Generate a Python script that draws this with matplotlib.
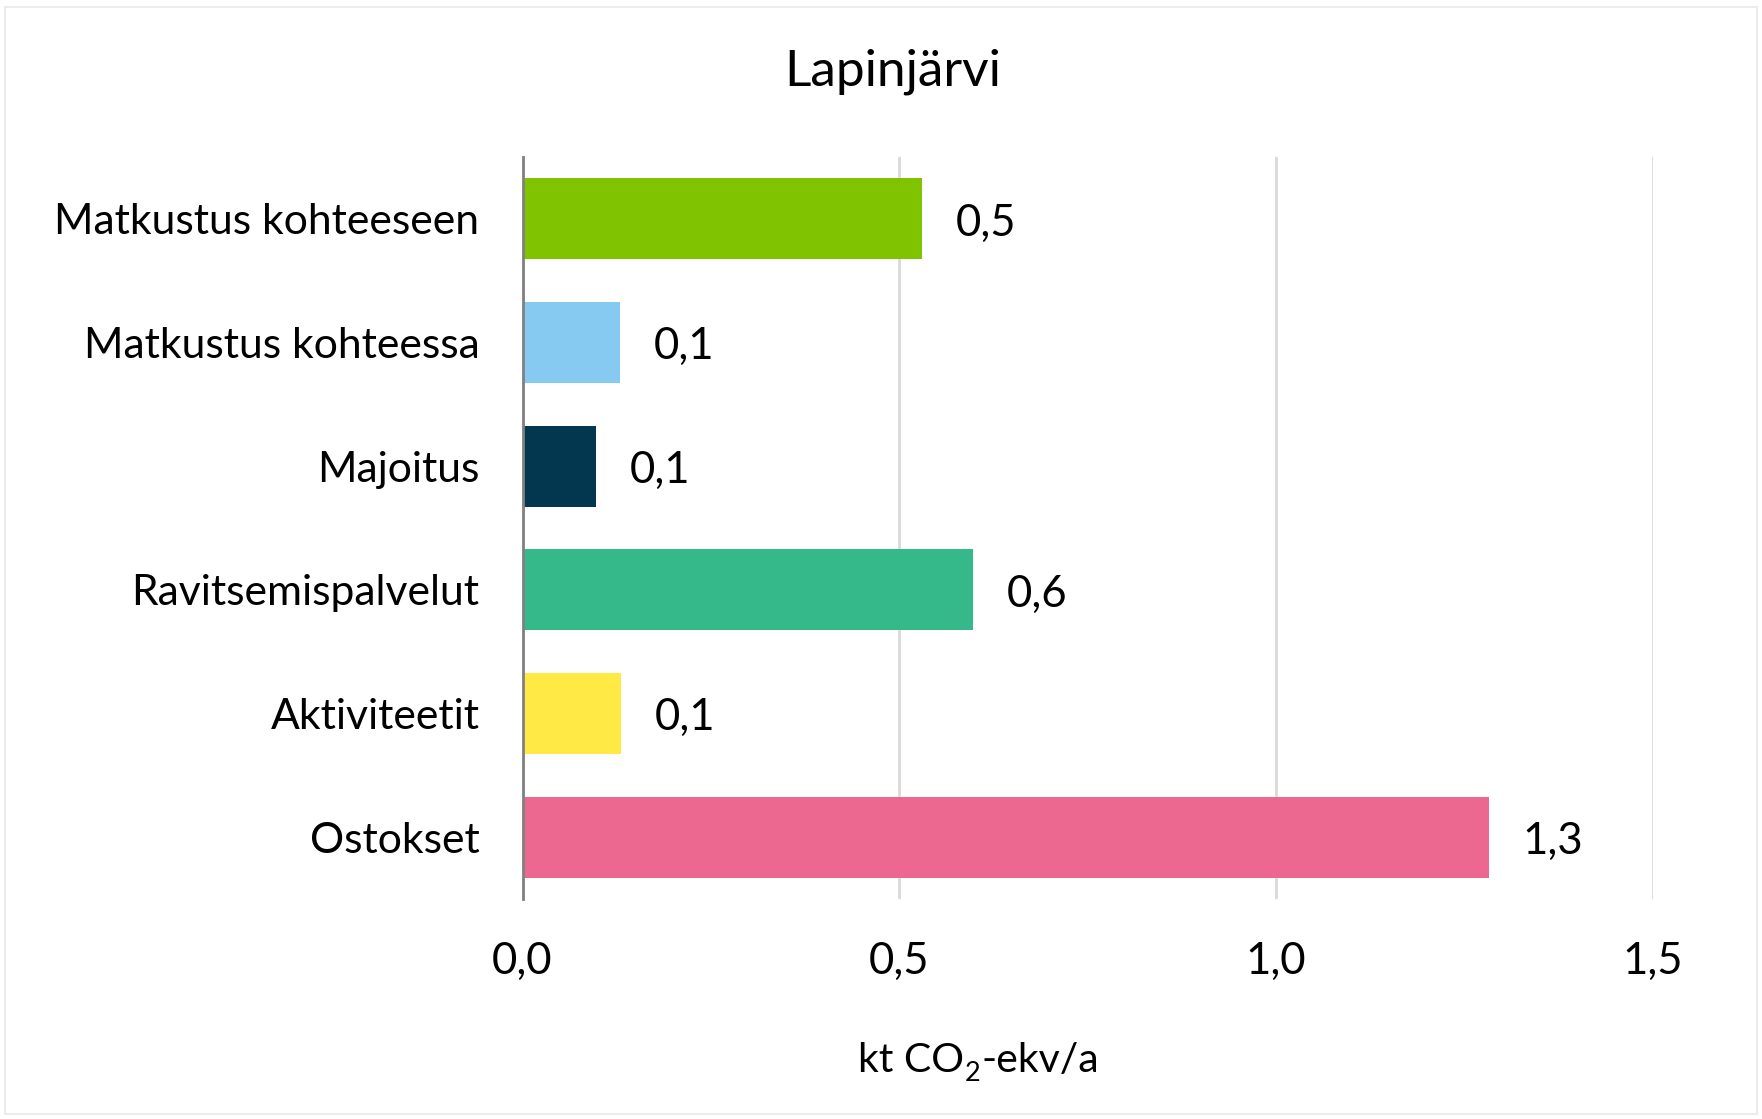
import matplotlib
matplotlib.use("Agg")
import matplotlib.pyplot as plt
from matplotlib.patches import Rectangle

plt.rcParams['font.family'] = ['Lato', 'DejaVu Sans']

title = "Lapinjärvi"
categories = ["Matkustus kohteeseen", "Matkustus kohteessa", "Majoitus",
              "Ravitsemispalvelut", "Aktiviteetit", "Ostokset"]
values = [0.53, 0.13, 0.098, 0.598, 0.131, 1.282]
colors = ["#80C300", "#87CAF1", "#03374F", "#35B98A", "#FFE945", "#EC6890"]
xticks = [0.0, 0.5, 1.0, 1.5]
xlabel_parts = ["kt CO", "2", "-ekv/a"]

W, H = 1762, 1119
fig = plt.figure(figsize=(W / 100, H / 100), dpi=100)
ax = fig.add_axes([522.5 / W, 1 - 899 / H, (1653 - 522.5) / W, (899 - 157) / H])

y = list(range(len(categories)))
ax.barh(y, values, height=0.655, color=colors, zorder=3)
ax.set_ylim(len(categories) - 0.5, -0.5)
ax.set_xlim(0, 1.5)
ax.set_yticks(y)
ax.set_yticklabels(categories, fontsize=30.7)
ax.set_xticks(xticks)
ax.set_xticklabels([f"{t:.1f}".replace(".", ",") for t in xticks], fontsize=31.5)
ax.tick_params(axis='y', length=0, pad=31)
ax.tick_params(axis='x', length=0, pad=30)
ax.grid(axis='x', color='#d9d9d9', linewidth=2, zorder=0)
for s in ['top', 'right', 'bottom']:
    ax.spines[s].set_visible(False)
ax.spines['left'].set_color('#808080')
ax.spines['left'].set_linewidth(2)
ax.spines['left'].set_zorder(4)

for yi, v in zip(y, values):
    ax.annotate(f"{v:.1f}".replace(".", ","), xy=(v, yi), xytext=(24, -3),
                textcoords='offset points', va='center', ha='left', fontsize=31.5)

fig.text(893 / W, 1 - 72 / H, title, ha='center', va='center', fontsize=37)

# x axis title with subscript, built from pieces
base_px = (1 - 1072 / H) * H
t1 = fig.text(858 / W, base_px / H, xlabel_parts[0], ha='left', va='baseline', fontsize=29.5)
t2 = fig.text(0, 0, xlabel_parts[1], ha='left', va='baseline', fontsize=19.5)
t3 = fig.text(0, 0, xlabel_parts[2], ha='left', va='baseline', fontsize=29.5)
fig.canvas.draw()
r = fig.canvas.get_renderer()
bb1 = t1.get_window_extent(r)
t2.set_position(((bb1.x1 + 1) / W, (base_px - 9) / H))
bb2 = t2.get_window_extent(r)
t3.set_position(((bb2.x1 + 1) / W, base_px / H))

fig.patches.append(Rectangle((5 / W, 5 / H), 1 - 10 / W, 1 - 12 / H,
                             transform=fig.transFigure, fill=False,
                             edgecolor='#ececec', linewidth=1.5))

fig.savefig("out.png", dpi=100, facecolor='white')
